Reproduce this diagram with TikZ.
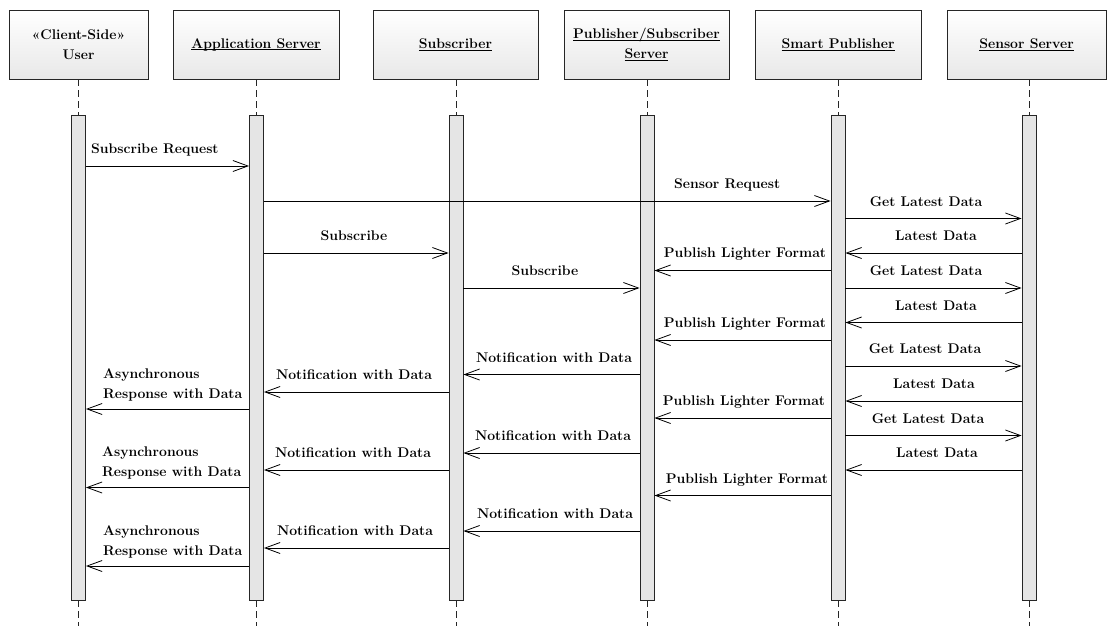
\documentclass[tikz,border=0pt]{standalone}
\usepackage{fontspec}
\usetikzlibrary{arrows.meta}
% underline drawn just below the baseline, through the descenders
\newcommand\ulbl[1]{\setbox0\hbox{#1}\rlap{\vrule height -1.4pt depth 2.4pt width \wd0}\box0}
\begin{document}
\begin{tikzpicture}[x=1pt,y=-1pt,
  font=\fontsize{14}{20}\selectfont\bfseries,
  head/.style={draw=black!85, line width=0.9pt, top color=white, bottom color=black!9,
    minimum height=69pt, inner sep=0pt, align=center},
  bar/.style={draw=black!85, fill=black!10, line width=0.9pt,
    minimum width=14pt, minimum height=485pt, inner sep=0pt},
  life/.style={line width=0.9pt, black!85, dash pattern=on 7pt off 4pt},
  msg/.style={line width=0.8pt, -{Straight Barb[length=15pt,width=11pt]}},
  lbl/.style={inner sep=0pt, anchor=base},
  lbll/.style={inner sep=0pt, anchor=south west, align=left}]
\useasboundingbox (0,0) rectangle (1107,626);

% participants
\node[head, minimum width=139pt] (hu) at (78.5,44.5) {«Client-Side»\\User};
\node[head, minimum width=166pt] (ha) at (256,44.5) {\ulbl{Application Server}};
\node[head, minimum width=165pt] (hs) at (455.5,44.5) {\ulbl{Subscriber}};
\node[head, minimum width=165pt] (hp) at (646.5,44.5) {\ulbl{Publisher/Subscriber}\\\ulbl{Server}};
\node[head, minimum width=166pt] (hm) at (838,44.5) {\ulbl{Smart Publisher}};
\node[head, minimum width=159pt] (he) at (1026.5,44.5) {\ulbl{Sensor Server}};

% activation bars
\node[bar] (ub) at (78.5,357.5) {};
\node[bar] (ab) at (256.5,357.5) {};
\node[bar] (sb) at (456,357.5) {};
\node[bar] (pb) at (647,357.5) {};
\node[bar] (mb) at (838,357.5) {};
\node[bar] (eb) at (1029,357.5) {};

% lifelines
\foreach \h/\b in {hu/ub, ha/ab, hs/sb, hp/pb, hm/mb, he/eb}{
  \draw[life] (\b.north |- \h.south) -- (\b.north);
  \draw[life] (\b.south) -- (\b.south |- 0,626);
}

% messages
\draw[msg] (ub.east |- 0,166) -- (ab.west |- 0,166);
\node[lbl, anchor=base west] at (91,153) {Subscribe Request};

\draw[msg] (ab.east |- 0,201) -- (mb.west |- 0,201);
\node[lbl, anchor=base west] at (674,188) {Sensor Request};

\draw[msg] (mb.east |- 0,218.5) -- (eb.west |- 0,218.5);
\node[lbl] at (926,206) {Get Latest Data};

\draw[msg] (ab.east |- 0,253) -- (sb.west |- 0,253);
\node[lbl] at (354,240) {Subscribe};

\draw[msg] (eb.west |- 0,253) -- (mb.east |- 0,253);
\node[lbl] at (936,240) {Latest Data};

\draw[msg] (mb.west |- 0,270.5) -- (pb.east |- 0,270.5);
\node[lbl] at (745,257) {Publish Lighter Format};

\draw[msg] (sb.east |- 0,288) -- (pb.west |- 0,288);
\node[lbl] at (545,275) {Subscribe};

\draw[msg] (mb.east |- 0,288) -- (eb.west |- 0,288);
\node[lbl] at (926,275) {Get Latest Data};

\draw[msg] (eb.west |- 0,322.5) -- (mb.east |- 0,322.5);
\node[lbl] at (936,310) {Latest Data};

\draw[msg] (mb.west |- 0,340) -- (pb.east |- 0,340);
\node[lbl] at (745,327) {Publish Lighter Format};

\draw[msg] (mb.east |- 0,366) -- (eb.west |- 0,366);
\node[lbl] at (925,353) {Get Latest Data};

\draw[msg] (pb.west |- 0,374.5) -- (sb.east |- 0,374.5);
\node[lbl] at (554,362) {Notification with Data};

\draw[msg] (sb.west |- 0,392) -- (ab.east |- 0,392);
\node[lbl] at (354,379) {Notification with Data};

\draw[msg] (eb.west |- 0,401) -- (mb.east |- 0,401);
\node[lbl] at (934,388) {Latest Data};

\draw[msg] (ab.west |- 0,409) -- (ub.east |- 0,409);
\node[lbll] at (103,401) {Asynchronous\\Response with Data};

\draw[msg] (mb.west |- 0,418) -- (pb.east |- 0,418);
\node[lbl] at (744,405) {Publish Lighter Format};

\draw[msg] (mb.east |- 0,435.5) -- (eb.west |- 0,435.5);
\node[lbl] at (928,423) {Get Latest Data};

\draw[msg] (pb.west |- 0,453) -- (sb.east |- 0,453);
\node[lbl] at (553,440) {Notification with Data};

\draw[msg] (eb.west |- 0,470) -- (mb.east |- 0,470);
\node[lbl] at (937,457) {Latest Data};

\draw[msg] (sb.west |- 0,470) -- (ab.east |- 0,470);
\node[lbl] at (353,457) {Notification with Data};

\draw[msg] (ab.west |- 0,487.5) -- (ub.east |- 0,487.5);
\node[lbll] at (102,479) {Asynchronous\\Response with Data};

\draw[msg] (mb.west |- 0,495.5) -- (pb.east |- 0,495.5);
\node[lbl] at (747,483) {Publish Lighter Format};

\draw[msg] (pb.west |- 0,531) -- (sb.east |- 0,531);
\node[lbl] at (555,518) {Notification with Data};

\draw[msg] (sb.west |- 0,548) -- (ab.east |- 0,548);
\node[lbl] at (355,535) {Notification with Data};

\draw[msg] (ab.west |- 0,566) -- (ub.east |- 0,566);
\node[lbll] at (103,558) {Asynchronous\\Response with Data};
\end{tikzpicture}
\end{document}
